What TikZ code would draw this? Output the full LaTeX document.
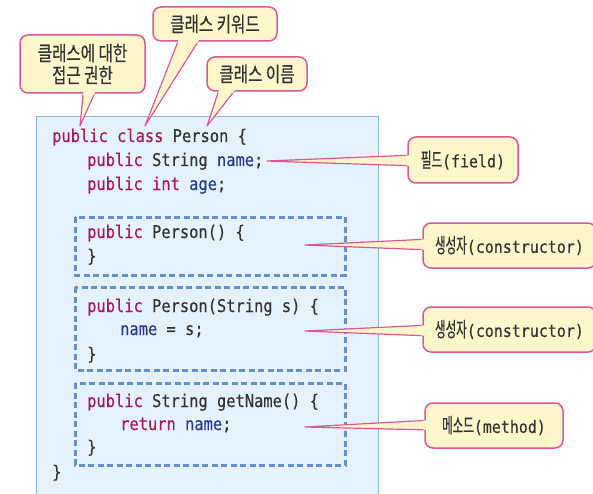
\documentclass[tikz,border=0pt]{standalone}
\usepackage{fontspec}
\usetikzlibrary{calc}
\newfontfamily\codefont[FakeStretch=0.88,FakeBold=0.35]{DejaVu Sans Mono}
\newfontfamily\krfont[FakeStretch=0.76,FakeBold=0.5]{Noto Sans CJK KR}
\newfontfamily\krnarrow[FakeStretch=0.56,FakeBold=0.5]{Noto Sans CJK KR}
\definecolor{kwc}{HTML}{A3195B}
\definecolor{idc}{HTML}{283C8C}
\definecolor{txtc}{HTML}{333333}
\definecolor{panelc}{HTML}{E3F2FC}
\definecolor{panelb}{HTML}{8CB4DC}
\definecolor{dashc}{HTML}{6690C8}
\definecolor{callf}{HTML}{FFF6CC}
\definecolor{callb}{HTML}{D8589A}
\newcommand\kwd[1]{\textcolor{kwc}{#1}}
\newcommand\idf[1]{\textcolor{idc}{#1}}
\pgfdeclarelayer{back}\pgfdeclarelayer{wedges}\pgfdeclarelayer{front}
\pgfsetlayers{back,wedges,main,front}
\tikzset{
  code/.style={anchor=base west, inner sep=0pt, font=\codefont\fontsize{17.5}{20}\selectfont, text=txtc},
  panel/.style={fill=panelc},
  panelline/.style={draw=panelb, line width=1pt},
  dbox/.style={draw=dashc, line width=3pt, dash pattern=on 6pt off 3.5pt},
  callbox/.style={draw=callb, fill=callf, line width=1.5pt, rounded corners=8pt, inner sep=0pt, align=center, text=txtc},
  topcall/.style={callbox, font=\krfont\fontsize{20.5}{22}\selectfont},
  wedge/.style={draw=callb, fill=callf, line width=1.2pt, line join=round},
  patch/.style={fill=callf}
}
\newcommand\sidelabel[2]{{\krnarrow\fontsize{20.5}{18}\selectfont #1}{\codefont\fontsize{17}{18}\selectfont (#2)}}
\begin{document}
\begin{tikzpicture}[x=1pt,y=-1pt]
\useasboundingbox (0,0) rectangle (593,494);
% panel and dashed boxes
\begin{pgfonlayer}{back}
  \fill[panel] (36,117) rectangle (378,494);
  \draw[panelline] (36,494) -- (36,117) -- (378,117) -- (378,494);
  \draw[dbox] (75,217) rectangle (345,275);
  \draw[dbox] (75,287) rectangle (345,370);
  \draw[dbox] (75,383) rectangle (345,465);
\end{pgfonlayer}
% code
\node[code] (l1) at (52,142) {\kwd{public} \kwd{class} Person \{};
\node[code] (l2) at (87,166) {\kwd{public} String \idf{name};};
\node[code] (l3) at (87,190) {\kwd{public} \kwd{int} \idf{age};};
\node[code] (l4) at (87,238) {\kwd{public} Person() \{};
\node[code] (l5) at (87,262) {\}};
\node[code] (l6) at (87,312) {\kwd{public} Person(String s) \{};
\node[code] (l7) at (120,335) {\idf{name} = s;};
\node[code] (l8) at (87,360) {\}};
\node[code] (l9) at (87,407) {\kwd{public} String getName() \{};
\node[code] (l10) at (120,430) {\kwd{return} \idf{name};};
\node[code] (l11) at (87,453) {\}};
\node[code] (l12) at (52,478) {\}};
% callouts
\node[topcall, minimum width=125pt, minimum height=58pt] (cacc) at (82.5,64) {클래스에 대한\\접근 권한};
\node[topcall, minimum width=124pt, minimum height=34pt] (ckey) at (215,24) {클래스 키워드};
\node[topcall, minimum width=100pt, minimum height=34pt] (cname) at (257,74) {클래스 이름};
\node[callbox, minimum width=110pt, minimum height=46pt] (cfld) at (463,160) {\sidelabel{필드}{field}};
\node[callbox, minimum width=173pt, minimum height=45pt] (ccon1) at (509.5,245.5) {\sidelabel{생성자}{constructor}};
\node[callbox, minimum width=173pt, minimum height=45pt] (ccon2) at (509.5,329.5) {\sidelabel{생성자}{constructor}};
\node[callbox, minimum width=138pt, minimum height=45pt] (cmet) at (494,425.5) {\sidelabel{메소드}{method}};
% tips
\coordinate (tacc) at (80,126);
\coordinate (tkey) at (145,126);
\coordinate (tname) at (207,126);
\coordinate (tfld) at (267,161);
\coordinate (tcon1) at (305,245);
\coordinate (tcon2) at (305,331);
\coordinate (tmet) at (305,427);
% wedges
\begin{pgfonlayer}{wedges}
  \draw[wedge] ($(cacc.south)+(1.5,-8)$) -- (tacc) -- ($(cacc.south)+(15.5,-8)$) -- cycle;
  \draw[wedge] ($(ckey.south)+(-34,-8)$) -- (tkey) -- ($(ckey.south)+(-12,-8)$) -- cycle;
  \draw[wedge] ($(cname.south)+(-36,-8)$) -- (tname) -- ($(cname.south)+(-17,-8)$) -- cycle;
  \draw[wedge] ($(cfld.west)+(8,-5)$) -- (tfld) -- ($(cfld.west)+(8,6)$) -- cycle;
  \draw[wedge] ($(ccon1.west)+(8,-6.5)$) -- (tcon1) -- ($(ccon1.west)+(8,4.5)$) -- cycle;
  \draw[wedge] ($(ccon2.west)+(8,-4.5)$) -- (tcon2) -- ($(ccon2.west)+(8,6.5)$) -- cycle;
  \draw[wedge] ($(cmet.west)+(8,-5.5)$) -- (tmet) -- ($(cmet.west)+(8,4.5)$) -- cycle;
\end{pgfonlayer}
% patches that open the box border where the pointer joins
\begin{pgfonlayer}{front}
  \begin{scope}
    \clip ($(cacc.south west)+(0,1)$) rectangle ($(cacc.north east)$);
    \fill[patch] ($(cacc.south)+(1.5,-8)$) -- (tacc) -- ($(cacc.south)+(15.5,-8)$) -- cycle;
  \end{scope}
  \begin{scope}
    \clip ($(ckey.south west)+(0,1)$) rectangle ($(ckey.north east)$);
    \fill[patch] ($(ckey.south)+(-34,-8)$) -- (tkey) -- ($(ckey.south)+(-12,-8)$) -- cycle;
  \end{scope}
  \begin{scope}
    \clip ($(cname.south west)+(0,1)$) rectangle ($(cname.north east)$);
    \fill[patch] ($(cname.south)+(-36,-8)$) -- (tname) -- ($(cname.south)+(-17,-8)$) -- cycle;
  \end{scope}
  \begin{scope}
    \clip ($(cfld.south west)+(-1,0)$) rectangle ($(cfld.north east)$);
    \fill[patch] ($(cfld.west)+(8,-5)$) -- (tfld) -- ($(cfld.west)+(8,6)$) -- cycle;
  \end{scope}
  \begin{scope}
    \clip ($(ccon1.south west)+(-1,0)$) rectangle ($(ccon1.north east)$);
    \fill[patch] ($(ccon1.west)+(8,-6.5)$) -- (tcon1) -- ($(ccon1.west)+(8,4.5)$) -- cycle;
  \end{scope}
  \begin{scope}
    \clip ($(ccon2.south west)+(-1,0)$) rectangle ($(ccon2.north east)$);
    \fill[patch] ($(ccon2.west)+(8,-4.5)$) -- (tcon2) -- ($(ccon2.west)+(8,6.5)$) -- cycle;
  \end{scope}
  \begin{scope}
    \clip ($(cmet.south west)+(-1,0)$) rectangle ($(cmet.north east)$);
    \fill[patch] ($(cmet.west)+(8,-5.5)$) -- (tmet) -- ($(cmet.west)+(8,4.5)$) -- cycle;
  \end{scope}
\end{pgfonlayer}
\end{tikzpicture}
\end{document}
